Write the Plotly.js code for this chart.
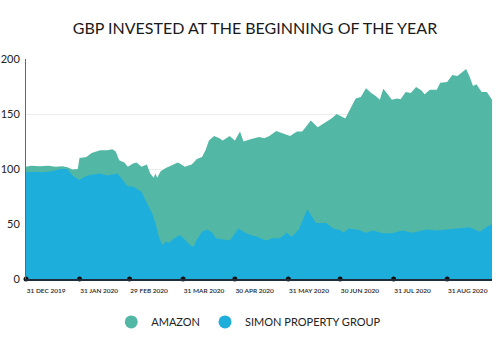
<!DOCTYPE html>
<html>
<head>
<meta charset="utf-8">
<script src="https://cdn.plot.ly/plotly-3.0.1.min.js"></script>
<style>html,body{margin:0;padding:0;background:#fff;}#chart{width:500px;height:353px;}</style>
</head>
<body>
<div id="chart"></div>
<script>
const amazonDates = ['2019-12-31','2020-01-03','2020-01-08','2020-01-13','2020-01-17','2020-01-21','2020-01-24','2020-01-27','2020-01-30','2020-01-31','2020-02-04','2020-02-07','2020-02-12','2020-02-16','2020-02-19','2020-02-21','2020-02-23','2020-02-26','2020-02-28','2020-03-02','2020-03-04','2020-03-07','2020-03-10','2020-03-12','2020-03-14','2020-03-15','2020-03-16','2020-03-18','2020-03-21','2020-03-25','2020-03-28','2020-03-30','2020-04-01','2020-04-05','2020-04-08','2020-04-11','2020-04-13','2020-04-15','2020-04-18','2020-04-21','2020-04-23','2020-04-27','2020-04-30','2020-05-03','2020-05-05','2020-05-09','2020-05-14','2020-05-17','2020-05-20','2020-05-24','2020-05-27','2020-06-01','2020-06-05','2020-06-08','2020-06-10','2020-06-13','2020-06-17','2020-06-22','2020-06-25','2020-06-28','2020-07-01','2020-07-03','2020-07-06','2020-07-09','2020-07-12','2020-07-15','2020-07-18','2020-07-21','2020-07-23','2020-07-25','2020-07-27','2020-07-30','2020-08-02','2020-08-04','2020-08-07','2020-08-10','2020-08-13','2020-08-16','2020-08-18','2020-08-21','2020-08-25','2020-08-27','2020-08-31','2020-09-03','2020-09-06','2020-09-11','2020-09-13','2020-09-15','2020-09-17','2020-09-20','2020-09-23','2020-09-26'];
const amazonValues = [102,103,102.5,103,102,102.5,101.5,99.5,100,110,111,114.5,117,117,118,116,108,106,102,105,106,102,104,96,92,96,92,98,101,104,106,104,102,104,109,111,117,126,130,128,126,130,126,134,125,127,129,128,130,134.5,133,130,134,134,138,144,138,143,146,150,148,146,155,164,165.5,173.5,169,166,163,173,169,163,164,163.5,170,169,174.5,171.5,168,172,172,178.5,179,185.5,184.5,191,184,175.5,177,170,170,163];

const simonDates = ['2019-12-31','2020-01-05','2020-01-10','2020-01-15','2020-01-20','2020-01-24','2020-01-27','2020-01-31','2020-02-03','2020-02-06','2020-02-12','2020-02-16','2020-02-19','2020-02-22','2020-02-25','2020-02-28','2020-03-02','2020-03-05','2020-03-07','2020-03-10','2020-03-11','2020-03-13','2020-03-15','2020-03-17','2020-03-19','2020-03-21','2020-03-23','2020-03-26','2020-03-29','2020-04-01','2020-04-04','2020-04-06','2020-04-08','2020-04-11','2020-04-14','2020-04-17','2020-04-19','2020-04-23','2020-04-27','2020-04-29','2020-05-02','2020-05-06','2020-05-09','2020-05-13','2020-05-18','2020-05-22','2020-05-26','2020-05-30','2020-06-02','2020-06-06','2020-06-09','2020-06-11','2020-06-14','2020-06-16','2020-06-22','2020-06-26','2020-06-30','2020-07-02','2020-07-05','2020-07-11','2020-07-15','2020-07-19','2020-07-25','2020-07-30','2020-08-05','2020-08-11','2020-08-19','2020-08-25','2020-08-31','2020-09-07','2020-09-13','2020-09-19','2020-09-23','2020-09-26'];
const simonValues = [97,97.5,97,98,100,100,94,90,93,94.5,96,94,95,96,90,84,84,81,79,69,66,60,51,38,31,34,33,37,40,36,31,29,36,43,45,42,37,36,35,39,46,42,40,38.5,35,37,37,42,38.5,45,56.7,63.5,56,51,51,46,44.5,42,46,44.5,42,44,41.5,41.5,44,42,45,44,45,46,47,43,47.5,50];

const tickDates = ['2019-12-31','2020-01-31','2020-02-29','2020-03-31','2020-04-30','2020-05-31','2020-06-30','2020-07-31','2020-08-31'];
const tickLabels = ['31 DEC 2019','31 JAN 2020','29 FEB 2020','31 MAR 2020','30 APR 2020','31 MAY 2020','30 JUN 2020','31 JUL 2020','31 AUG 2020'];
const yTicks = [0,50,100,150,200];

const seriesNames = ['AMAZON','SIMON PROPERTY GROUP'];
const colors = ['#52b8a5','#1eaedc'];
const FONT = 'Lato, "Open Sans", sans-serif';

const traces = [
  {x: amazonDates, y: amazonValues, type:'scatter', mode:'lines', fill:'tozeroy', fillcolor: colors[0], line:{width:0, color: colors[0]}, showlegend:false, hoverinfo:'skip'},
  {x: simonDates, y: simonValues, type:'scatter', mode:'lines', fill:'tozeroy', fillcolor: colors[1], line:{width:0, color: colors[1]}, showlegend:false, hoverinfo:'skip'},
  {x: tickDates, y: tickDates.map(() => 0), type:'scatter', mode:'markers', marker:{size:5, color:'#111'}, showlegend:false, cliponaxis:false, hoverinfo:'skip'},
  {x:[null], y:[null], type:'scatter', mode:'markers', name: seriesNames[0], marker:{size:13, color: colors[0], symbol:'circle'}},
  {x:[null], y:[null], type:'scatter', mode:'markers', name: seriesNames[1], marker:{size:13, color: colors[1], symbol:'circle'}}
];

const layout = {
  width: 500, height: 353,
  margin: {l:26, r:8, t:59, b:74, autoexpand:false},
  paper_bgcolor:'#fff', plot_bgcolor:'#fff',
  font: {family: FONT, color:'#222'},
  title: {text:'GBP INVESTED AT THE BEGINNING OF THE YEAR', font:{family: FONT, size:16, color:'#1a1a1a'}, x:0.51, xanchor:'center', xref:'container', y:0.92, yanchor:'middle', yref:'container'},
  xaxis: {
    type:'date', range:['2019-12-31','2020-09-26'],
    tickvals: tickDates, ticktext: tickLabels, ticks:'',
    tickangle:0,
    ticklabelposition:'outside right',
    ticklabelstandoff:5,
    tickfont:{family: FONT, size:6.5, color:'#222', weight:600},
    showgrid:false, zeroline:false,
    showline:true, linecolor:'#1f2d3d', linewidth:1.5,
    fixedrange:true
  },
  yaxis: {
    range:[0,200], tickvals: yTicks, ticks:'',
    tickfont:{family: FONT, size:11, color:'#222'},
    showgrid:true, gridcolor:'#ececec', gridwidth:1,
    zeroline:false, showline:true, linecolor:'#666', linewidth:1,
    ticklabelstandoff:3,
    fixedrange:true
  },
  legend: {orientation:'h', x:0.478, xanchor:'center', y:-0.195, yanchor:'middle', itemwidth:30, font:{family: FONT, size:11, color:'#222'}, traceorder:'normal'},
  showlegend:true
};

Plotly.newPlot('chart', traces, layout, {staticPlot:true, displayModeBar:false});
</script>
</body>
</html>
